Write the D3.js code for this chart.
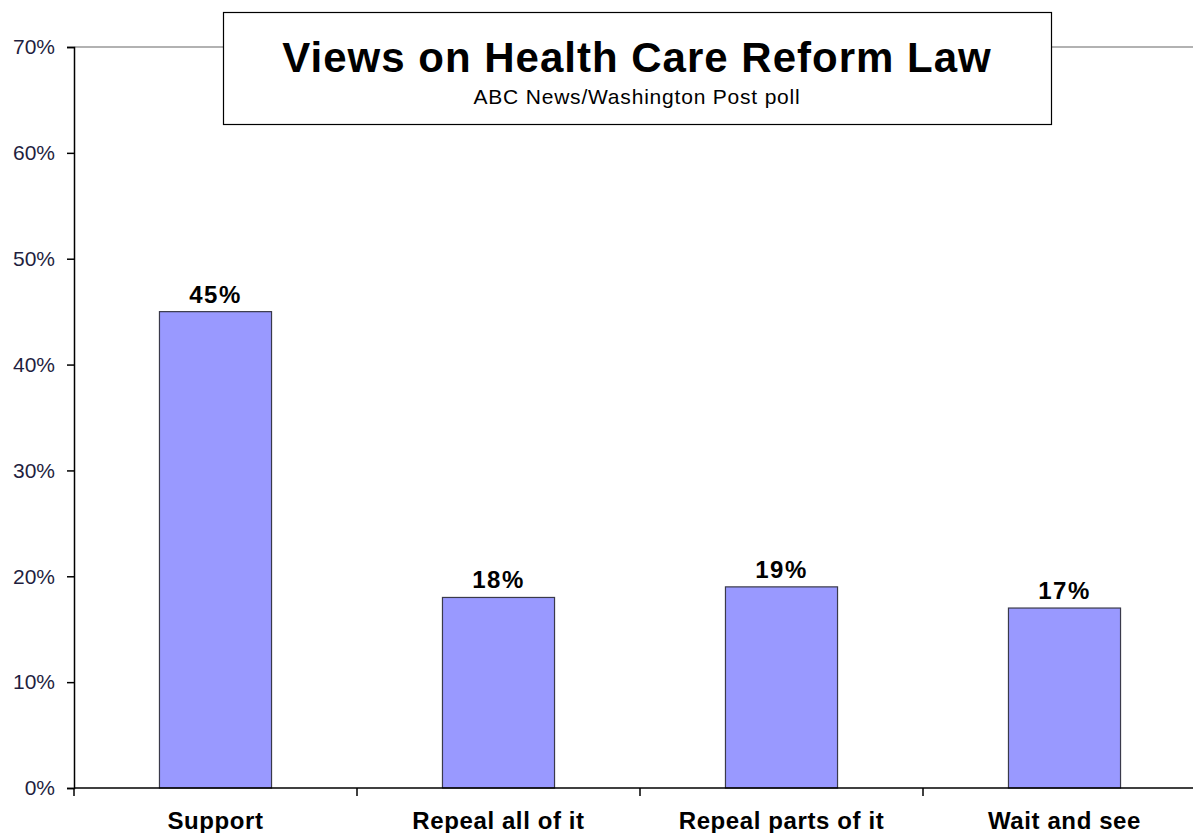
<!DOCTYPE html>
<html>
<head>
<meta charset="utf-8">
<script src="https://cdn.jsdelivr.net/npm/d3@7"></script>
<style>
  body { margin: 0; background: #fff; }
  svg { font-family: "Liberation Sans", Arial, sans-serif; }
</style>
</head>
<body>
<div id="chart"></div>
<script>
// chart data
const categories = ["Support", "Repeal all of it", "Repeal parts of it", "Wait and see"];
const values = [45, 18, 19, 17];
const yTicks = [0, 10, 20, 30, 40, 50, 60, 70];

const width = 1193;
const height = 833;
// plot area runs off the right edge like the original
const margin = { left: 74, top: 47, bottom: 45 };
const plotRight = 1206;

const svg = d3.select("#chart").append("svg")
  .attr("width", width)
  .attr("height", height);

const x = d3.scaleBand()
  .domain(categories)
  .range([margin.left, plotRight]);

const y = d3.scaleLinear()
  .domain([0, 70])
  .range([height - margin.bottom, margin.top]);

// top gridline at 70%
svg.append("line")
  .attr("x1", margin.left).attr("x2", width)
  .attr("y1", y(70)).attr("y2", y(70))
  .attr("stroke", "#999").attr("stroke-width", 1.5);

// bars
const barW = x.bandwidth() * 0.396;
svg.selectAll(".bar")
  .data(values)
  .join("rect")
  .attr("class", "bar")
  .attr("x", (d, i) => x(categories[i]) + (x.bandwidth() - barW) / 2)
  .attr("y", d => y(d))
  .attr("width", barW)
  .attr("height", d => y(0) - y(d))
  .attr("fill", "#9999ff")
  .attr("stroke", "#3a3a4a")
  .attr("stroke-width", 1.2);

// value labels
svg.selectAll(".val")
  .data(values)
  .join("text")
  .attr("class", "val")
  .attr("x", (d, i) => x(categories[i]) + x.bandwidth() / 2)
  .attr("y", d => y(d) - 9)
  .attr("text-anchor", "middle")
  .style("font-size", "24px")
  .style("font-weight", "bold")
  .style("letter-spacing", "1.5px")
  .text(d => d + "%");

// y axis
const yAxis = d3.axisLeft(y)
  .tickValues(yTicks)
  .tickFormat(d => d + "%")
  .tickSize(7)
  .tickPadding(12);
const gy = svg.append("g")
  .attr("transform", `translate(${margin.left},0)`)
  .call(yAxis);
gy.select(".domain").attr("stroke", "#000").attr("stroke-width", 1.5);
gy.selectAll(".tick line").attr("stroke", "#000").attr("stroke-width", 1.5);
gy.selectAll("text")
  .style("font-size", "21px")
  .style("font-family", "Liberation Sans, Arial, sans-serif")
  .attr("fill", "#1f1f3f");

// x axis: ticks between categories
const gx = svg.append("g");
gx.append("line")
  .attr("x1", margin.left).attr("x2", width)
  .attr("y1", y(0)).attr("y2", y(0))
  .attr("stroke", "#000").attr("stroke-width", 1.5);
const bounds = categories.map(c => x(c)).concat([plotRight]);
gx.selectAll(".xt")
  .data(bounds)
  .join("line")
  .attr("x1", d => d).attr("x2", d => d)
  .attr("y1", y(0)).attr("y2", y(0) + 8)
  .attr("stroke", "#000").attr("stroke-width", 1.5);
gx.selectAll(".xl")
  .data(categories)
  .join("text")
  .attr("x", d => x(d) + x.bandwidth() / 2)
  .attr("y", y(0) + 41)
  .attr("text-anchor", "middle")
  .style("font-size", "24px")
  .style("font-weight", "bold")
  .style("letter-spacing", "0.6px")
  .text(d => d);

// title box
svg.append("rect")
  .attr("x", 223.5).attr("y", 12.5)
  .attr("width", 828).attr("height", 112)
  .attr("fill", "#fff")
  .attr("stroke", "#000").attr("stroke-width", 1.2);
svg.append("text")
  .attr("x", 637).attr("y", 72)
  .attr("text-anchor", "middle")
  .style("font-size", "42px")
  .style("font-weight", "bold")
  .style("letter-spacing", "1px")
  .text("Views on Health Care Reform Law");
svg.append("text")
  .attr("x", 637).attr("y", 104)
  .attr("text-anchor", "middle")
  .style("font-size", "21px")
  .style("letter-spacing", "0.8px")
  .text("ABC News/Washington Post poll");
</script>
</body>
</html>
